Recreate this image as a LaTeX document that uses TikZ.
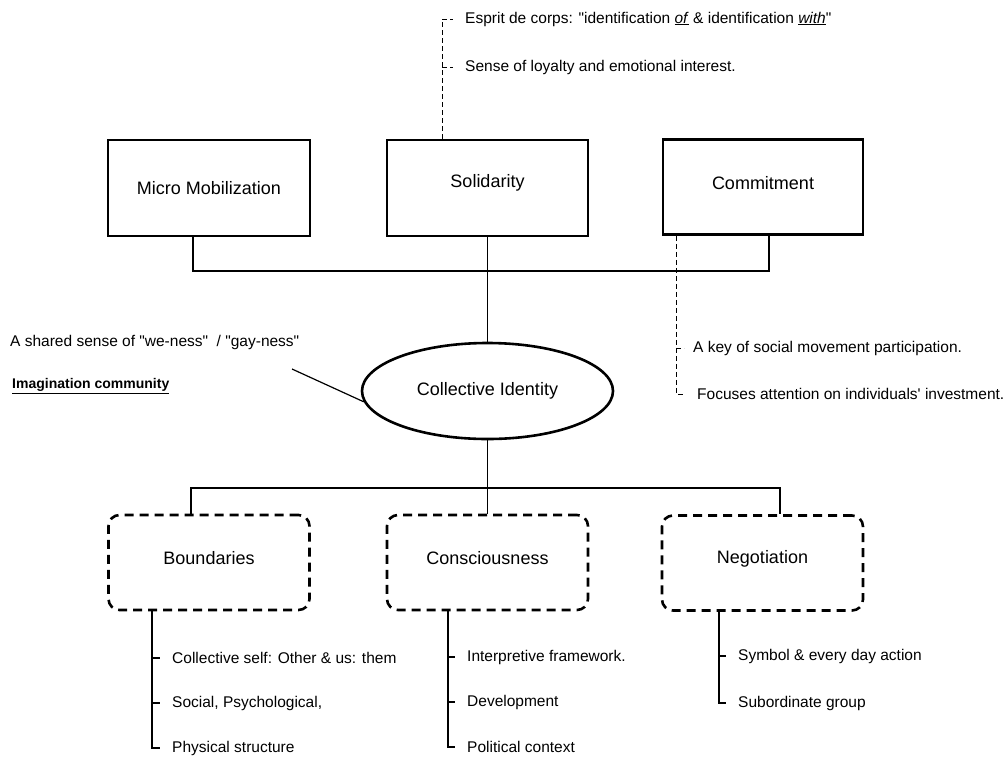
\documentclass[tikz,border=0pt]{standalone}
\usepackage{fontspec}
\setmainfont{Liberation Sans}[Ligatures=TeXOff]
\usetikzlibrary{shapes.geometric,calc}
\newcommand{\upby}[2]{\raisebox{#1}[\height][\depth]{#2}}
\begin{document}
\begin{tikzpicture}[x=1pt,y=-1pt,
  box/.style={draw,line width=2.8pt,font=\fontsize{18}{21}\selectfont,inner sep=0pt},
  dbox/.style={draw,line width=2.6pt,dash pattern=on 9pt off 6pt,rounded corners=11pt,font=\fontsize{18}{21}\selectfont,minimum width=201pt,minimum height=95pt,inner sep=0pt},
  note/.style={anchor=west,inner xsep=12pt,inner ysep=1pt,font=\fontsize{15.5}{18}\selectfont},
  conn/.style={line width=1.2pt},
  dashconn/.style={line width=0.9pt,dash pattern=on 5pt off 3pt}]
\useasboundingbox (0,0) rectangle (1006,758);

% top boxes
\node[box,minimum width=202pt,minimum height=96pt] (micro) at (209,188) {Micro Mobilization};
\node[box,minimum width=201pt,minimum height=96pt] (sol) at (487.5,188) {\upby{5pt}{Solidarity}};
\node[box,minimum width=200pt,minimum height=95pt] (commit) at (763,187) {\upby{4pt}{Commitment}};

% ellipse
\node[draw,ellipse,line width=2.6pt,minimum width=251pt,minimum height=96pt,inner sep=0pt,font=\fontsize{18}{21}\selectfont] (ci) at (487.5,391) {Collective Identity};

% bottom boxes
\node[dbox] (bnd) at (209,562.5) {\upby{4pt}{Boundaries}};
\node[dbox] (cons) at (487.5,562.5) {\upby{4pt}{Consciousness}};
\node[dbox] (neg) at (762.5,563) {\upby{4pt}{Negotiation}};

% top connectors
\coordinate (hub) at (487.5,271);
\coordinate (mL) at ([xshift=-16pt]micro.south);
\coordinate (mR) at ([xshift=6pt]commit.south);
\draw[conn] (mL) |- (hub) -| (mR);
\draw[conn] (sol.south) -- (ci.north);

% bottom connectors
\coordinate (hub2) at (487.5,488);
\coordinate (bL) at ([xshift=-18pt]bnd.north);
\coordinate (bR) at ([xshift=17.5pt]neg.north);
\draw[conn] (ci.south) -- (hub2);
\draw[conn] (bL) |- (hub2) -| (bR);
\draw[conn] (hub2) -- (cons.north);

% Solidarity notes
\node[note] (s1) at (453,19) {Esprit de corps: "identification \underline{\textit{of}} \& identification \underline{\textit{with}}"};
\node[note] (s2) at (453,67) {Sense of loyalty and emotional interest.};
\coordinate (st) at ([xshift=-45.5pt]sol.north);
\draw[dashconn] (st) |- (s1.west);
\draw[dashconn] (st |- s2.west) -- (s2.west);

% Commitment notes
\node[note,inner xsep=9pt] (c1) at (684,348) {A key of social movement participation.};
\node[note,inner xsep=13pt] (c2) at (684,394) {Focuses attention on individuals' investment.};
\coordinate (ct) at ([xshift=-87pt]commit.south);
\draw[dashconn] (ct) |- (c2.west);
\draw[dashconn] (ct |- c1.west) -- (c1.west);

% left notes
\node[anchor=west,inner sep=0pt,font=\fontsize{15.5}{18}\selectfont] (we) at (10,342) {A shared sense of "we-ness" \ / "gay-ness"};
\node[anchor=west,inner sep=0pt,font=\fontsize{14}{16}\selectfont\bfseries] (im) at (12,386) {\underline{Imagination community}};
\coordinate (wl) at (292,369);
\draw[conn] (wl) -- (ci.185);

% Boundaries list
\node[note] (b1) at (160,658) {Collective self: Other \& us: them};
\node[note] (b2) at (160,703) {Social, Psychological,};
\node[note] (b3) at (160,748) {Physical structure};
\coordinate (bt) at ([xshift=-57pt]bnd.south);
\draw[conn] (bt) |- (b3.west);
\draw[conn] (bt |- b1.west) -- (b1.west);
\draw[conn] (bt |- b2.west) -- (b2.west);

% Consciousness list
\node[note] (k1) at (455,657) {Interpretive framework.};
\node[note] (k2) at (455,702) {Development};
\node[note] (k3) at (455,747) {Political context};
\coordinate (kt) at ([xshift=-39.5pt]cons.south);
\draw[conn] (kt) |- (k3.west);
\draw[conn] (kt |- k1.west) -- (k1.west);
\draw[conn] (kt |- k2.west) -- (k2.west);

% Negotiation list
\node[note] (n1) at (726,656) {Symbol \& every day action};
\node[note] (n2) at (726,703) {Subordinate group};
\coordinate (nt) at ([xshift=-43.5pt]neg.south);
\draw[conn] (nt) |- (n2.west);
\draw[conn] (nt |- n1.west) -- (n1.west);
\end{tikzpicture}
\end{document}
